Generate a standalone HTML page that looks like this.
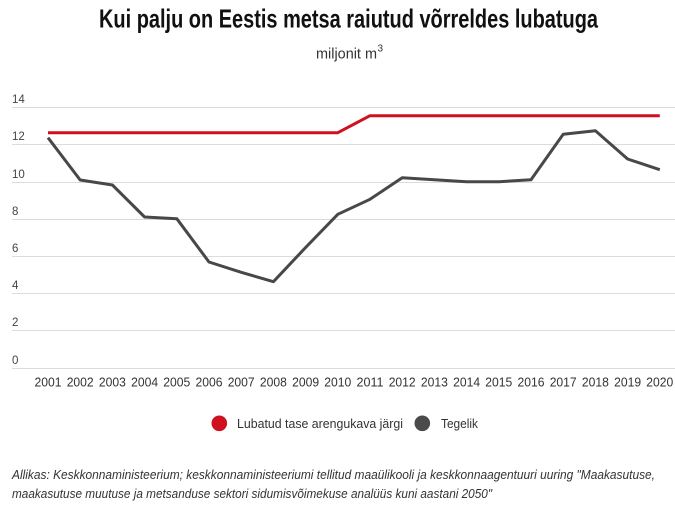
<!DOCTYPE html>
<html>
<head>
<meta charset="utf-8">
<style>
html,body{margin:0;padding:0;background:#fff;}
svg{display:block;}
text{font-family:"Liberation Sans",sans-serif;}
</style>
</head>
<body>
<svg width="675" height="512" viewBox="0 0 675 512" xmlns="http://www.w3.org/2000/svg">
  <rect width="675" height="512" fill="#fff"/>
  <!-- Title -->
  <text x="99" y="27.5" font-size="26" font-weight="bold" fill="#111" textLength="499" lengthAdjust="spacingAndGlyphs">Kui palju on Eestis metsa raiutud võrreldes lubatuga</text>
  <text x="316" y="58.3" font-size="15" fill="#333" textLength="61" lengthAdjust="spacingAndGlyphs">miljonit m</text>
  <text x="377.5" y="51.5" font-size="10" fill="#333">3</text>

  <!-- Grid -->
  <g stroke="#dcdcdc" stroke-width="1">
    <line x1="12" y1="107.5" x2="675" y2="107.5"/>
    <line x1="12" y1="144.5" x2="675" y2="144.5"/>
    <line x1="12" y1="182.5" x2="675" y2="182.5"/>
    <line x1="12" y1="219.5" x2="675" y2="219.5"/>
    <line x1="12" y1="256.5" x2="675" y2="256.5"/>
    <line x1="12" y1="293.5" x2="675" y2="293.5"/>
    <line x1="12" y1="330.5" x2="675" y2="330.5"/>
    <line x1="12" y1="368.5" x2="675" y2="368.5"/>
  </g>

  <!-- Y labels -->
  <g font-size="11.5" fill="#444">
    <text x="12" y="103">14</text>
    <text x="12" y="140">12</text>
    <text x="12" y="178">10</text>
    <text x="12" y="215">8</text>
    <text x="12" y="252">6</text>
    <text x="12" y="289">4</text>
    <text x="12" y="326">2</text>
    <text x="12" y="364">0</text>
  </g>

  <!-- X labels -->
  <g font-size="12.5" fill="#333" text-anchor="middle">
    <text x="48" y="386.5" textLength="27" lengthAdjust="spacingAndGlyphs">2001</text>
    <text x="80.2" y="386.5" textLength="27" lengthAdjust="spacingAndGlyphs">2002</text>
    <text x="112.4" y="386.5" textLength="27" lengthAdjust="spacingAndGlyphs">2003</text>
    <text x="144.6" y="386.5" textLength="27" lengthAdjust="spacingAndGlyphs">2004</text>
    <text x="176.8" y="386.5" textLength="27" lengthAdjust="spacingAndGlyphs">2005</text>
    <text x="209" y="386.5" textLength="27" lengthAdjust="spacingAndGlyphs">2006</text>
    <text x="241.2" y="386.5" textLength="27" lengthAdjust="spacingAndGlyphs">2007</text>
    <text x="273.4" y="386.5" textLength="27" lengthAdjust="spacingAndGlyphs">2008</text>
    <text x="305.6" y="386.5" textLength="27" lengthAdjust="spacingAndGlyphs">2009</text>
    <text x="337.8" y="386.5" textLength="27" lengthAdjust="spacingAndGlyphs">2010</text>
    <text x="370" y="386.5" textLength="27" lengthAdjust="spacingAndGlyphs">2011</text>
    <text x="402.2" y="386.5" textLength="27" lengthAdjust="spacingAndGlyphs">2012</text>
    <text x="434.4" y="386.5" textLength="27" lengthAdjust="spacingAndGlyphs">2013</text>
    <text x="466.6" y="386.5" textLength="27" lengthAdjust="spacingAndGlyphs">2014</text>
    <text x="498.8" y="386.5" textLength="27" lengthAdjust="spacingAndGlyphs">2015</text>
    <text x="531" y="386.5" textLength="27" lengthAdjust="spacingAndGlyphs">2016</text>
    <text x="563.2" y="386.5" textLength="27" lengthAdjust="spacingAndGlyphs">2017</text>
    <text x="595.4" y="386.5" textLength="27" lengthAdjust="spacingAndGlyphs">2018</text>
    <text x="627.6" y="386.5" textLength="27" lengthAdjust="spacingAndGlyphs">2019</text>
    <text x="659.8" y="386.5" textLength="27" lengthAdjust="spacingAndGlyphs">2020</text>
  </g>

  <!-- Red series -->
  <polyline fill="none" stroke="#d0101e" stroke-width="3" stroke-linejoin="round"
    points="48,132.7 337.8,132.7 370,115.7 659.8,115.7"/>

  <!-- Gray series -->
  <polyline fill="none" stroke="#484848" stroke-width="3" stroke-linejoin="round"
    points="48,137.7 80.2,180 112.4,185 144.6,217 176.8,218.7 209,262 241.2,272.3 273.4,281.7 305.6,247.5 337.8,214.3 370,199.3 402.2,177.7 434.4,179.7 466.6,181.7 498.8,181.7 531,179.7 563.2,134.3 595.4,130.7 627.6,159 659.8,169.7"/>

  <!-- Legend -->
  <circle cx="219.3" cy="423.3" r="7.8" fill="#d0101e"/>
  <text x="237" y="428" font-size="13" fill="#333" textLength="166" lengthAdjust="spacingAndGlyphs">Lubatud tase arengukava järgi</text>
  <circle cx="422.3" cy="423.3" r="7.8" fill="#4a4a4a"/>
  <text x="441" y="428" font-size="13" fill="#333" textLength="37" lengthAdjust="spacingAndGlyphs">Tegelik</text>

  <!-- Footer -->
  <text x="12" y="479" font-size="12.5" font-style="italic" fill="#333" textLength="643" lengthAdjust="spacingAndGlyphs">Allikas: Keskkonnaministeerium; keskkonnaministeeriumi tellitud maaülikooli ja keskkonnaagentuuri uuring "Maakasutuse,</text>
  <text x="12" y="498" font-size="12.5" font-style="italic" fill="#333" textLength="480" lengthAdjust="spacingAndGlyphs">maakasutuse muutuse ja metsanduse sektori sidumisvõimekuse analüüs kuni aastani 2050"</text>
</svg>
</body>
</html>
